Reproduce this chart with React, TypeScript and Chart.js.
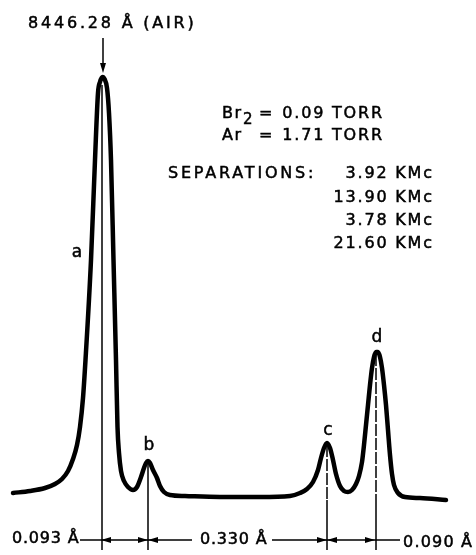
import React, { useEffect, useRef } from "react";
import { Chart, registerables } from "chart.js";

Chart.register(...registerables);

// Spectrum trace (position in arbitrary units across the record, relative intensity)
const curveX = [13, 30, 45, 55, 62, 68, 73, 77, 80, 83, 85.5, 91, 95, 98, 100, 102.5, 104.5, 107, 109, 111, 113.5, 116, 117.5, 119, 121, 124, 128, 133, 137, 141, 144, 146, 148, 150, 153, 157, 160, 164, 170, 185, 220, 260, 290, 300, 307, 313, 318, 321, 324, 327, 330, 333, 336, 340, 344, 348, 352, 356, 359, 362, 364, 366, 368, 370, 372, 374, 376, 378, 380, 382, 384, 386, 388, 390, 392, 394, 398, 405, 420, 446];
const curveY = [0, 2, 5, 9, 14, 22, 34, 48, 66, 95, 133, 233, 333, 400, 411, 416, 414, 405, 380, 333, 233, 133, 66, 40, 22, 12, 6, 3, 6, 16, 25, 30, 32, 30, 23, 15, 7, 1, -2, -3, -4, -4, -3, 0, 4, 11, 23, 35, 45, 50, 45, 33, 19, 7, 2, 1, 3, 9, 17, 31, 48, 68, 88, 108, 125, 136, 141, 141, 136, 125, 108, 88, 63, 38, 19, 8, 0, -4, -5, -7];

// Peaks
const peakLabels = ["a", "b", "c", "d"];
const peakPos = [102, 148, 327, 376];
const peakHeight = [416, 32, 50, 141];

// Annotations
const lineLabel = "8446.28 Å (AIR)";
const pressureGas = ["Br", "Ar"];
const pressureValues = ["0.09 TORR", "1.71 TORR"];
const separationsTitle = "SEPARATIONS:";
const separationsKMc = ["3.92 KMc", "13.90 KMc", "3.78 KMc", "21.60 KMc"];
const separationsA = ["0.093 Å", "0.330 Å", "0.090 Å"];

const FONT = '"DejaVu Sans", "Liberation Sans", sans-serif';

function drawText(
  ctx: CanvasRenderingContext2D,
  s: string,
  x: number,
  y: number,
  size: number,
  align: "left" | "right" | "center" = "left",
  spacing = 2,
  baseline: CanvasTextBaseline = "alphabetic"
) {
  ctx.font = `${size}px ${FONT}`;
  (ctx as any).letterSpacing = "0px";
  const w0 = ctx.measureText(s).width;
  const n = [...s].length;
  const w = w0 + spacing * (n - 1);
  (ctx as any).letterSpacing = `${spacing}px`;
  let left = x;
  if (align === "right") left = x - w;
  else if (align === "center") left = x - w / 2;
  ctx.textAlign = "left";
  ctx.textBaseline = baseline;
  ctx.fillText(s, left, y);
  ctx.lineWidth = 0.5;
  ctx.strokeText(s, left, y);
  (ctx as any).letterSpacing = "0px";
  return w;
}

function arrowHead(ctx: CanvasRenderingContext2D, tipX: number, tipY: number, dx: number, dy: number, len = 10, half = 3) {
  const bx = tipX - dx * len;
  const by = tipY - dy * len;
  const px = -dy, py = dx;
  ctx.beginPath();
  ctx.moveTo(tipX, tipY);
  ctx.lineTo(bx + px * half, by + py * half);
  ctx.lineTo(bx - px * half, by - py * half);
  ctx.closePath();
  ctx.fill();
}

const annotationPlugin = {
  id: "spectrumAnnotations",
  afterDatasetsDraw(chart: any) {
    const ctx: CanvasRenderingContext2D = chart.ctx;
    const xs = chart.scales.x;
    const ys = chart.scales.y;
    const X = (v: number) => xs.getPixelForValue(v);
    const Y = (v: number) => ys.getPixelForValue(v);
    ctx.save();
    ctx.fillStyle = "#000";
    ctx.strokeStyle = "#000";

    // Top label and arrow to peak a
    drawText(ctx, lineLabel, 28, 28, 16, "left", 2.8);
    const ax = X(peakPos[0]) + 1;
    ctx.lineWidth = 1.5;
    ctx.beginPath();
    ctx.moveTo(ax, 38);
    ctx.lineTo(ax, 64);
    ctx.stroke();
    arrowHead(ctx, ax, 73, 0, 1, 10, 3);

    // Pressures
    drawText(ctx, pressureGas[0], 222, 118, 16, "left", 1.5);
    drawText(ctx, "2", 243, 124, 15, "left", 0);
    drawText(ctx, "=", 259, 118, 16, "left", 0);
    drawText(ctx, pressureValues[0], 382, 118, 16, "right", 1.8);
    drawText(ctx, pressureGas[1], 222, 140, 16, "left", 1.5);
    drawText(ctx, "=", 259, 140, 16, "left", 0);
    drawText(ctx, pressureValues[1], 382, 140, 16, "right", 1.8);

    // Separations
    drawText(ctx, separationsTitle, 168, 178, 16, "left", 2.8);
    const kBase = [178, 202, 225, 248];
    separationsKMc.forEach((s, i) => drawText(ctx, s, 432, kBase[i], 16, "right", 1.8));

    // Peak letters
    const lblOff = [0, 15, 12, 14];
    peakLabels.forEach((l, i) => {
      if (i === 0) {
        drawText(ctx, l, 77, 253, 17, "center", 0, "middle");
      } else {
        drawText(ctx, l, X(peakPos[i]) + 1, Y(peakHeight[i]) - lblOff[i], 17, "center", 0, "middle");
      }
    });

    // Dimension line
    const dimY = Y(-47);
    const pa = X(peakPos[0]) - 1, pb = X(peakPos[1]), pc = X(peakPos[2]), pd = X(peakPos[3]) - 1;
    ctx.lineWidth = 1.4;
    ctx.beginPath();
    ctx.moveTo(80, dimY);
    ctx.lineTo(192, dimY);
    ctx.moveTo(272, dimY);
    ctx.lineTo(400, dimY);
    ctx.stroke();
    arrowHead(ctx, pa, dimY, -1, 0, 10, 3);
    arrowHead(ctx, pb, dimY, 1, 0, 10, 3);
    arrowHead(ctx, pb, dimY, -1, 0, 10, 3);
    arrowHead(ctx, pc, dimY, 1, 0, 10, 3);
    arrowHead(ctx, pc, dimY, -1, 0, 10, 3);
    arrowHead(ctx, pd, dimY, 1, 0, 10, 3);

    drawText(ctx, separationsA[0], 12, dimY - 1, 16, "left", 0.8, "middle");
    drawText(ctx, separationsA[1], 200, dimY, 16, "left", 0.8, "middle");
    drawText(ctx, separationsA[2], 403, dimY + 3, 16, "left", 1.2, "middle");

    ctx.restore();
  },
};

export default function App() {
  const ref = useRef<HTMLCanvasElement | null>(null);

  useEffect(() => {
    if (!ref.current) return;
    const guideSets = peakPos.map((p, i) => ({
      data: [
        { x: p, y: i === 0 ? peakHeight[i] - 8 : peakHeight[i] - 2 },
        { x: p, y: -7 },
        { x: p, y: -57 },
      ],
      borderColor: "#000",
      borderWidth: 1.5,
      pointRadius: 0,
      tension: 0,
      fill: false,
      segment: {
        borderDash: (c: any) => (c.p0DataIndex === 0 ? [10, 4] : []),
      },
    }));
    const chart = new Chart(ref.current, {
      type: "line",
      data: {
        datasets: [
          {
            data: curveX.map((x, i) => ({ x, y: curveY[i] })),
            borderColor: "#000",
            borderWidth: 4.5,
            pointRadius: 0,
            cubicInterpolationMode: "monotone",
            borderJoinStyle: "round",
            borderCapStyle: "round",
            fill: false,
          },
          ...guideSets,
        ] as any,
      },
      options: {
        responsive: false,
        animation: false,
        devicePixelRatio: 1,
        layout: { padding: 0 },
        plugins: {
          legend: { display: false },
          title: { display: false },
          tooltip: { enabled: false },
        },
        scales: {
          x: { type: "linear", min: 0, max: 476, display: false },
          y: { type: "linear", min: -62, max: 493, display: false },
        },
      },
      plugins: [annotationPlugin],
    });
    return () => chart.destroy();
  }, []);

  return (
    <div style={{ position: "fixed", left: 0, top: 0, width: 476, height: 555, background: "#fff" }}>
      <canvas ref={ref} width={476} height={555} style={{ display: "block" }} />
    </div>
  );
}
